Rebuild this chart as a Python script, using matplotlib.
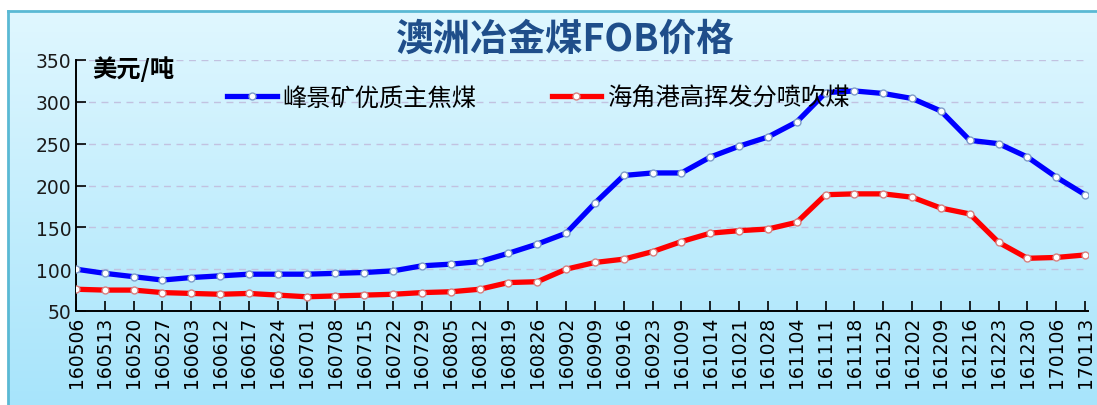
import numpy as np
import matplotlib
matplotlib.use("Agg")
import matplotlib.pyplot as plt
from matplotlib.colors import LinearSegmentedColormap

plt.rcParams['font.family'] = ['DejaVu Sans', 'Noto Sans CJK SC']

# data (USD/t)
dates = ['160506', '160513', '160520', '160527', '160603', '160612', '160617',
         '160624', '160701', '160708', '160715', '160722', '160729', '160805',
         '160812', '160819', '160826', '160902', '160909', '160916', '160923',
         '161009', '161014', '161021', '161028', '161104', '161111', '161118',
         '161125', '161202', '161209', '161216', '161223', '161230', '170106',
         '170113']
peak_downs = [100, 95, 91, 87, 90, 92, 94, 94, 94, 95, 96, 98, 104, 106,
              109, 119, 130, 143, 179, 212, 215, 215, 234, 247, 258, 276,
              311, 313, 310, 304, 289, 254, 250, 234, 210, 189]
hay_point_pci = [76, 75, 75, 72, 71, 70, 71, 69, 67, 68, 69, 70, 72, 73,
                 76, 84, 85, 100, 108, 112, 121, 133, 143, 146, 148, 156,
                 189, 190, 190, 186, 173, 166, 132, 113, 114, 117]
series_names = ['峰景矿优质主焦煤', '海角港高挥发分喷吹煤']
title = '澳洲冶金煤FOB价格'
unit = '美元/吨'
yticks = [50, 100, 150, 200, 250, 300, 350]

W, H = 1097, 406
fig = plt.figure(figsize=(W / 100, H / 100), dpi=100)
fig.patch.set_facecolor('white')

# background panel with vertical gradient, runs off the right and bottom edges
bg = fig.add_axes([8 / W, -0.02, 1.0, 1 - 12 / H + 0.02])
cmap = LinearSegmentedColormap.from_list('bg', ['#a6e4fb', '#e0f7ff'])
grad = np.linspace(0, 1, 256).reshape(-1, 1)
bg.imshow(grad, aspect='auto', cmap=cmap, origin='lower', extent=[0, 1, 0, 1])
bg.set_xticks([])
bg.set_yticks([])
for s in bg.spines.values():
    s.set_color('#5ab9d4')
    s.set_linewidth(2)

ax = fig.add_axes([76 / W, 1 - 312 / H, 1012 / W, 251 / H])
ax.patch.set_alpha(0)

x = np.arange(len(dates))
ax.plot(x, peak_downs, color='#0000ff', lw=3.8, marker='o', ms=5,
        mfc='white', mec='#7f9cc8', mew=1.0, label=series_names[0], zorder=3)
ax.plot(x, hay_point_pci, color='#ff0000', lw=3.8, marker='o', ms=5,
        mfc='white', mec='#d88080', mew=1.0, label=series_names[1], zorder=3)

ax.set_xlim(0, 35.1)
ax.set_ylim(50, 350)
ax.set_yticks(yticks)
ax.set_xticks(x)
ax.set_xticklabels(dates, rotation=90, fontsize=13.5)
ax.tick_params(axis='y', labelsize=13.5, direction='in', length=7, width=1.2)
ax.tick_params(axis='x', direction='in', length=7, width=1.2)
for lab in ax.get_yticklabels():
    lab.set_color('#1a1a1a')

for y in yticks[1:]:
    ax.axhline(y, color='#c2c2e0', lw=1.0, ls=(0, (5, 4)), zorder=1)

for side in ['top', 'right']:
    ax.spines[side].set_visible(False)
for side in ['left', 'bottom']:
    ax.spines[side].set_linewidth(1.4)

leg = ax.legend(ncol=2, frameon=False, loc='upper left',
                bbox_to_anchor=(151 / 1012, 1 - 25 / 251),
                prop={'family': 'Noto Sans CJK SC', 'size': 17.5},
                handlelength=2.05, handletextpad=0.22, columnspacing=3.1,
                borderpad=0, borderaxespad=0)

fig.text(92 / W, 1 - 69 / H, unit, fontsize=17.5, fontweight='bold',
         family=['Noto Sans CJK SC', 'DejaVu Sans'], va='center', ha='left')
fig.text(565 / W, 1 - 39 / H, title, fontsize=27, fontweight='heavy',
         color='#1f4e8a', family=['Noto Sans CJK SC', 'DejaVu Sans'],
         va='center', ha='center')

fig.savefig('out.png', dpi=100)
